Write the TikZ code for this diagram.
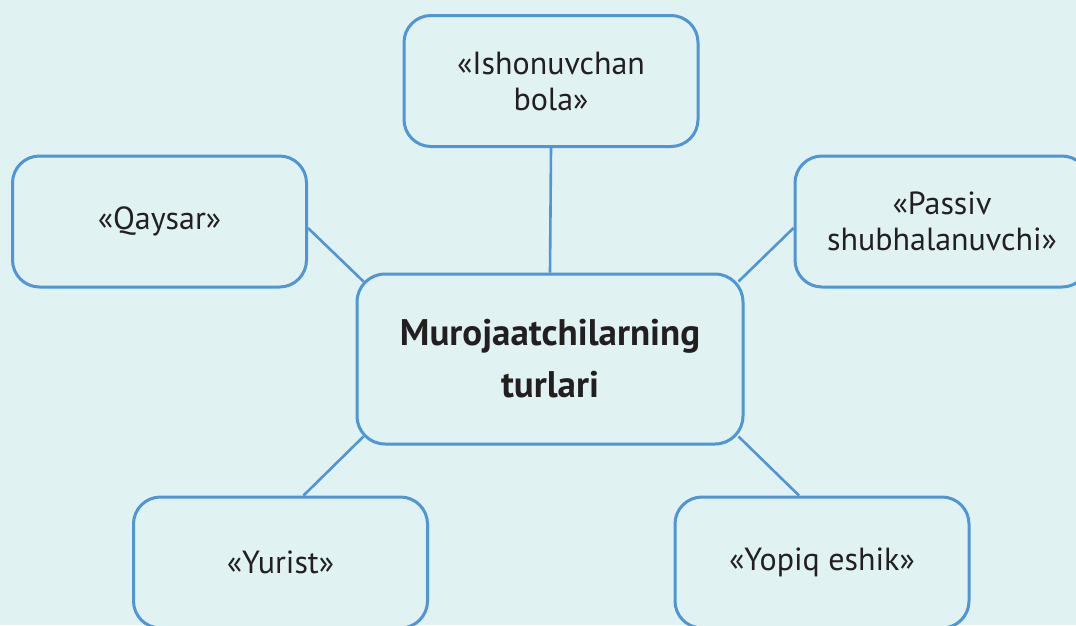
\documentclass[tikz,border=0pt]{standalone}
\usepackage{fontspec}
\setmainfont{PT Sans}
\usetikzlibrary{calc}
\definecolor{bgc}{RGB}{224,242,242}
\definecolor{edgec}{RGB}{80,149,212}
\definecolor{txtc}{RGB}{35,31,32}
\tikzset{
  leaf/.style={draw=edgec, line width=3pt, fill=bgc, rounded corners=27pt,
    minimum width=294pt, minimum height=131pt, align=center, text=txtc,
    font=\fontsize{32}{36}\selectfont, inner sep=0pt},
  hub/.style={leaf, minimum width=386pt, minimum height=170pt, rounded corners=28pt,
    font=\fontsize{37}{52}\selectfont\bfseries},
  link/.style={draw=edgec, line width=2.6pt}
}
\begin{document}
\begin{tikzpicture}[x=1pt,y=-1pt]
\useasboundingbox (0,0) rectangle (1076,625);
\clip (0,0) rectangle (1076,625);
\fill[bgc] (0,0) rectangle (1076,625);
\node[hub] (c) at (550,359) {Murojaatchilarning\\turlari};
\node[leaf] (t) at (551,81) {«Ishonuvchan\\bola»};
\node[leaf] (q) at (159.5,221.5) {«Qaysar»};
\node[leaf] (p) at (942,221.5) {«Passiv\\shubhalanuvchi»};
\node[leaf] (y) at (280.5,562.5) {«Yurist»};
\node[leaf] (e) at (822,562.5) {«Yopiq eshik»};
\coordinate (cnw) at ($(c.north west)+(8,9)$);
\coordinate (cne) at ($(c.north east)+(-6,9)$);
\coordinate (csw) at ($(c.south west)+(8,-9)$);
\coordinate (cse) at ($(c.south east)+(-6,-9)$);
\draw[link] (t.south) -- (c.north);
\draw[link] ($(q.east)+(0,6.5)$) -- (cnw);
\draw[link] ($(p.west)+(0,6.5)$) -- (cne);
\draw[link] ($(y.north)+(23,0)$) -- (csw);
\draw[link] ($(e.north)+(-23,0)$) -- (cse);
\end{tikzpicture}
\end{document}
